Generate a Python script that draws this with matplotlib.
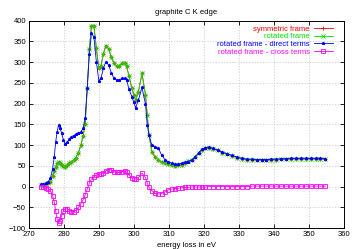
import matplotlib
matplotlib.use("Agg")
import matplotlib.pyplot as plt

plt.rcParams['font.family'] = ['Liberation Sans', 'DejaVu Sans']

# energy grid (eV)
energy = [273.5, 274.2, 274.9, 275.6, 276.2, 276.8, 277.3, 277.7, 278.1, 278.5,
          278.9, 279.4, 279.9, 280.4, 281.0, 281.6, 282.2, 282.8, 283.5, 284.2,
          284.9, 285.5, 286.1, 286.7, 287.3, 287.9, 288.6, 289.3, 290.0, 290.6,
          291.3, 292.0, 292.8, 293.6, 294.3, 295.1, 295.8, 296.6, 297.4, 297.9,
          298.6, 299.4, 300.0, 300.5, 301.3, 302.3, 303.3, 303.8, 304.3, 305.1,
          306.0, 307.0, 307.9, 308.9, 309.8, 310.8, 311.7, 312.7, 313.6, 314.6,
          315.5, 316.5, 317.5, 318.5, 319.4, 320.3, 321.4, 322.6, 323.9, 325.2,
          326.6, 328.0, 329.4, 330.8, 332.2, 333.6, 335.0, 336.4, 337.8, 339.2,
          340.6, 342.0, 343.4, 344.8, 346.2, 347.6, 349.0, 350.4, 351.8, 353.2,
          354.6]

symmetric = [3, 4, 6, 8, 12, 26, 38, 48, 56, 60,
             57, 53, 49, 47, 51, 56, 60, 64, 70, 82,
             100, 122, 150, 238, 331, 388, 386, 333, 285, 291,
             320, 340, 332, 312, 297, 291, 291, 297, 297, 290,
             267, 237, 221, 209, 229, 273, 221, 173, 125, 84,
             72, 64, 59, 56, 54, 51, 50, 51, 53, 57,
             61, 64, 72, 81, 89, 93, 94, 91, 87, 82,
             78, 74, 70, 67, 65, 65, 64, 64, 64, 65,
             65, 66, 66, 67, 67, 67, 67, 67, 67, 67,
             66]

rotated = [3, 4, 6, 8, 12, 26, 38, 48, 56, 60,
           57, 53, 49, 47, 51, 56, 60, 64, 70, 82,
           100, 122, 150, 238, 331, 388, 386, 333, 285, 291,
           320, 340, 332, 312, 297, 291, 291, 297, 297, 290,
           267, 237, 221, 209, 229, 273, 221, 173, 125, 84,
           72, 64, 59, 56, 54, 51, 50, 51, 53, 57,
           61, 64, 72, 81, 89, 93, 94, 91, 87, 82,
           78, 74, 70, 67, 65, 65, 64, 64, 64, 65,
           65, 66, 66, 67, 67, 67, 67, 67, 67, 67,
           66]

direct = [5, 6, 8, 12, 20, 42, 72, 108, 132, 148,
          142, 128, 112, 102, 107, 115, 120, 123, 126, 129,
          132, 140, 165, 238, 320, 370, 360, 301, 255, 261,
          285, 301, 293, 273, 261, 257, 257, 261, 261, 257,
          235, 217, 203, 190, 209, 239, 199, 148, 125, 100,
          96, 92, 76, 64, 60, 56, 54, 54, 56, 58,
          60, 64, 72, 82, 90, 94, 95, 92, 88, 83,
          79, 75, 71, 68, 66, 66, 65, 65, 65, 66,
          66, 67, 67, 68, 68, 68, 68, 68, 68, 68,
          67]

cross = [-1, -2, -4, -6, -10, -22, -38, -60, -78, -88,
         -84, -70, -58, -53, -54, -58, -61, -61, -57, -50,
         -41, -32, -20, -6, 8, 18, 24, 28, 30, 30,
         33, 38, 41, 40, 36, 34, 34, 36, 37, 34,
         28, 20, 18, 18, 22, 32, 22, 8, -2, -10,
         -16, -18, -17, -12, -8, -6, -5, -4, -3, -2,
         -2, -1, -1, -1, -1, -1, 0, 0, 0, 0,
         0, 0, 0, 0, 0, 1, 1, 1, 1, 1,
         1, 1, 1, 1, 1, 1, 1, 1, 1, 1,
         1]

fig = plt.figure(figsize=(3.56, 2.49), dpi=100)
ax = fig.add_axes([0.0806, 0.0843, 0.8866, 0.8327])

kw = dict(lw=0.6, ms=2.2, mew=0.6)
ax.plot(energy, symmetric, color='#ff0000', marker='+', label='symmetric frame', **kw)
ax.plot(energy, rotated, color='#00e000', marker='x', label='rotated frame', **kw)
ax.plot(energy, direct, color='#0000ff', marker='*', label='rotated frame - direct terms', **kw)
ax.plot(energy, cross, color='#ff00ff', marker='s', mfc='none', label='rotated frame - cross terms', **kw)

ax.set_xlim(270, 360)
ax.set_ylim(-100, 400)
ax.set_xticks(range(270, 361, 10))
ax.set_yticks(range(-100, 401, 50))
ax.grid(True, color='#c8c8c8', ls=(0, (2, 2)), lw=0.5)
ax.tick_params(direction='in', length=3, width=0.6, labelsize=5.5,
               top=True, right=True, pad=2)
for s in ax.spines.values():
    s.set_linewidth(0.7)

ax.set_title('graphite C K edge', fontsize=5.5, pad=5)
ax.set_xlabel('energy loss in eV', fontsize=5.5, labelpad=3)

ax.legend(loc='upper right', bbox_to_anchor=(0.98, 1.0), markerfirst=False,
          frameon=False, fontsize=5.5, labelcolor='linecolor',
          handlelength=2.6, handletextpad=0.5, labelspacing=0.05,
          borderaxespad=0.2)

fig.savefig('out.png', dpi=100)
